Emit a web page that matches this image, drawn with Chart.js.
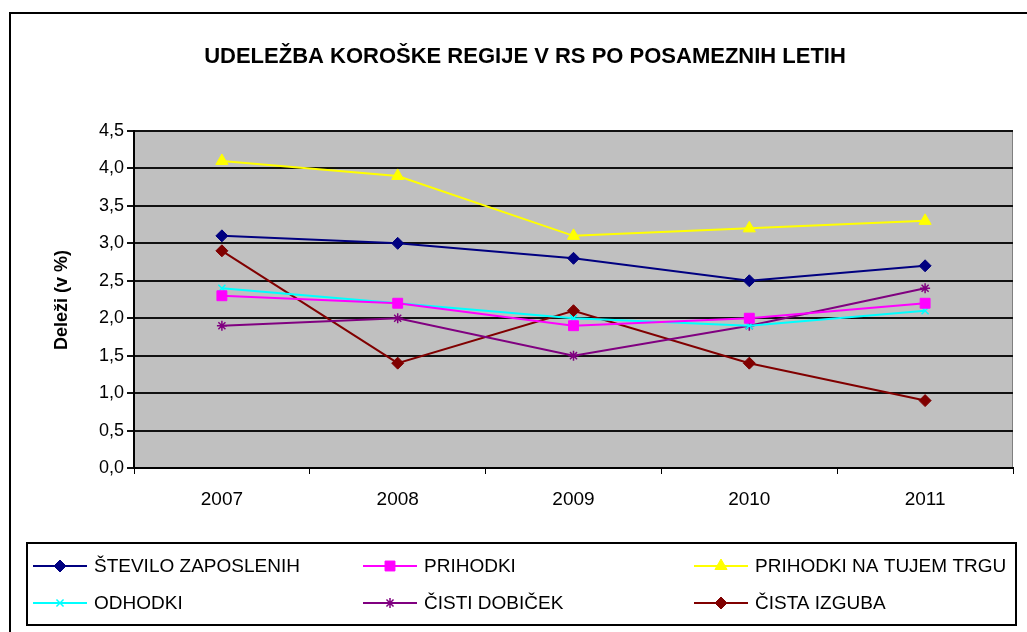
<!DOCTYPE html>
<html>
<head>
<meta charset="utf-8">
<script src="https://cdn.jsdelivr.net/npm/chart.js@4/dist/chart.umd.min.js"></script>
<style>
  html, body { margin: 0; padding: 0; background: #fff; }
  #wrap { width: 1027px; height: 632px; }
</style>
</head>
<body>
<div id="wrap"><canvas id="chart" width="1027" height="632"></canvas></div>
<script>
// data
const years = ['2007', '2008', '2009', '2010', '2011'];
const steviloZaposlenih = [3.1, 3.0, 2.8, 2.5, 2.7];
const prihodki = [2.3, 2.2, 1.9, 2.0, 2.2];
const prihodkiTujiTrg = [4.1, 3.9, 3.1, 3.2, 3.3];
const odhodki = [2.4, 2.2, 2.0, 1.9, 2.1];
const cistiDobicek = [1.9, 2.0, 1.5, 1.9, 2.4];
const cistaIzguba = [2.9, 1.4, 2.1, 1.4, 0.9];
const seriesNames = ['ŠTEVILO ZAPOSLENIH', 'PRIHODKI', 'PRIHODKI NA TUJEM TRGU', 'ODHODKI', 'ČISTI DOBIČEK', 'ČISTA IZGUBA'];
const yTicks = [0, 0.5, 1, 1.5, 2, 2.5, 3, 3.5, 4, 4.5];

const FONT = '"Liberation Sans", Arial, sans-serif';

function ds(label, data, color, style, radius, bw) {
    return {
        label: label,
        data: data,
        borderColor: color,
        backgroundColor: color,
        borderWidth: 2,
        pointStyle: style,
        pointRadius: radius,
        pointHoverRadius: radius,
        pointBorderWidth: bw,
        pointBackgroundColor: color,
        pointBorderColor: color,
        tension: 0
    };
}

const datasets = [
    ds(seriesNames[0], steviloZaposlenih, '#000080', 'rectRot', 6, 1),
    ds(seriesNames[1], prihodki, '#FF00FF', 'rect', 7, 1),
    ds(seriesNames[2], prihodkiTujiTrg, '#FFFF00', 'triangle', 7, 1),
    ds(seriesNames[3], odhodki, '#00FFFF', 'crossRot', 5, 1.5),
    ds(seriesNames[4], cistiDobicek, '#800080', 'star', 5, 1.5),
    ds(seriesNames[5], cistaIzguba, '#800000', 'rectRot', 6, 1)
];

// frame, plot background, titles and the boxed legend
const framePlugin = {
    id: 'frame',
    beforeDraw(chart) {
        const ctx = chart.ctx;
        const a = chart.chartArea;
        ctx.save();
        ctx.fillStyle = '#fff';
        ctx.fillRect(0, 0, chart.width, chart.height);
        ctx.strokeStyle = '#000';
        ctx.lineWidth = 2;
        ctx.strokeRect(10, 13, chart.width + 10, chart.height + 10);
        ctx.fillStyle = '#C0C0C0';
        ctx.fillRect(a.left, a.top, a.right - a.left, a.bottom - a.top);
        ctx.strokeStyle = '#808080';
        ctx.lineWidth = 1;
        ctx.beginPath();
        ctx.moveTo(a.left, a.top + 0.5);
        ctx.lineTo(a.right - 0.5, a.top + 0.5);
        ctx.lineTo(a.right - 0.5, a.bottom);
        ctx.stroke();
        ctx.restore();
    },
    afterDraw(chart) {
        const ctx = chart.ctx;
        ctx.save();
        ctx.fillStyle = '#000';
        ctx.textAlign = 'center';
        ctx.textBaseline = 'middle';
        ctx.font = 'bold 22px ' + FONT;
        ctx.fillText('UDELEŽBA KOROŠKE REGIJE V RS PO POSAMEZNIH LETIH', 525, 57);

        ctx.save();
        ctx.translate(62, 300);
        ctx.rotate(-Math.PI / 2);
        ctx.font = 'bold 18px ' + FONT;
        ctx.fillText('Deleži (v %)', 0, 0);
        ctx.restore();

        // legend box
        ctx.strokeStyle = '#000';
        ctx.lineWidth = 2;
        ctx.strokeRect(27, 543, 989, 82);
        const colX = [33, 363, 694];
        const rowY = [566, 603];
        ctx.font = '19px ' + FONT;
        ctx.textAlign = 'left';
        chart.data.datasets.forEach(function (d, i) {
            const x = colX[i % 3];
            const y = rowY[Math.floor(i / 3)];
            ctx.strokeStyle = d.borderColor;
            ctx.lineWidth = 2;
            ctx.beginPath();
            ctx.moveTo(x, y);
            ctx.lineTo(x + 54, y);
            ctx.stroke();
            ctx.fillStyle = d.pointBackgroundColor;
            ctx.strokeStyle = d.pointBorderColor;
            ctx.lineWidth = d.pointBorderWidth;
            Chart.helpers.drawPoint(ctx, {
                pointStyle: d.pointStyle,
                radius: d.pointRadius,
                rotation: 0,
                borderWidth: d.pointBorderWidth
            }, x + 27, y);
            ctx.fillStyle = '#000';
            ctx.fillText(d.label, x + 61, y + 1);
        });
        ctx.restore();
    }
};

const chart = new Chart(document.getElementById('chart').getContext('2d'), {
    type: 'line',
    data: { labels: years, datasets: datasets },
    options: {
        responsive: false,
        animation: false,
        devicePixelRatio: 1,
        layout: { padding: { left: 0, top: 131, right: 14, bottom: 124 } },
        plugins: {
            legend: { display: false },
            title: { display: false },
            tooltip: { enabled: false }
        },
        scales: {
            x: {
                offset: true,
                grid: {
                    offset: true,
                    drawOnChartArea: false,
                    drawTicks: true,
                    tickLength: 6,
                    color: '#000',
                    lineWidth: 1
                },
                border: { color: '#000', width: 2 },
                ticks: { color: '#000', font: { family: FONT, size: 19 }, padding: 14, maxRotation: 0 },
                afterFit(scale) { scale.height = 40; }
            },
            y: {
                min: 0,
                max: 4.5,
                afterBuildTicks(scale) { scale.ticks = yTicks.map(v => ({ value: v })); },
                grid: {
                    color: '#111',
                    lineWidth: 2,
                    drawTicks: true,
                    tickLength: 7
                },
                border: { color: '#000', width: 2 },
                ticks: {
                    color: '#000',
                    font: { family: FONT, size: 18 },
                    padding: 3,
                    callback: v => v.toFixed(1).replace('.', ',')
                },
                afterFit(scale) { scale.width = 134; }
            }
        }
    },
    plugins: [framePlugin]
});
</script>
</body>
</html>
